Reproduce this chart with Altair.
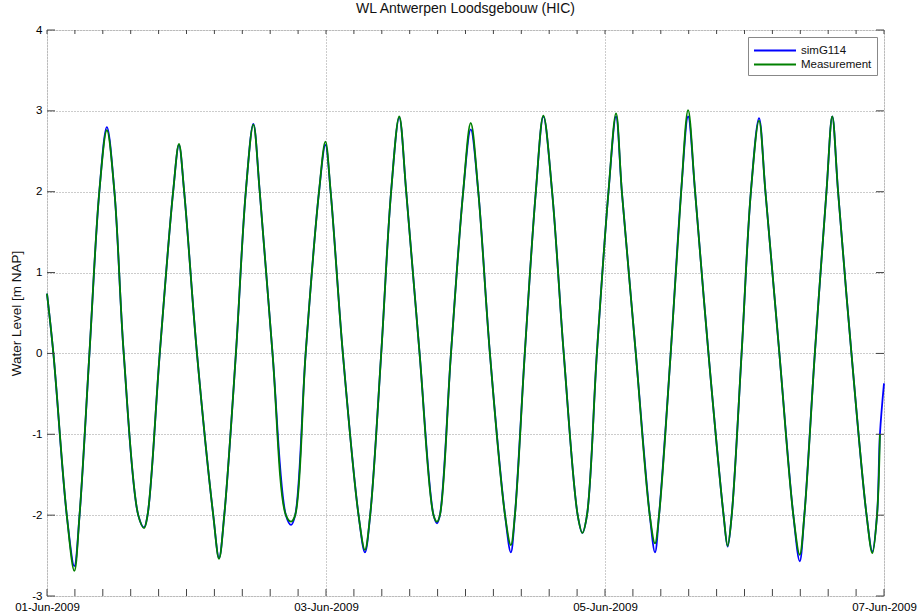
import altair as alt
import pandas as pd

# ---- data (hours after 01-Jun-2009 00:00) ----
hours = [0.0, 1.1, 3.4, 4.7,
         5.6, 7.3, 9.0, 10.3, 11.6, 13.2, 15.7, 16.7,
         17.3, 19.4, 21.7, 22.7, 23.6, 25.8, 28.6, 29.6,
         30.5, 32.5, 34.2, 35.5, 36.6, 38.8, 41.1, 42.0,
         42.7, 44.5, 46.8, 47.9, 48.8, 50.9, 53.6, 54.7,
         55.6, 57.5, 59.2, 60.6, 61.8, 64.1, 66.5, 67.1,
         67.6, 69.5, 71.6, 72.9, 74.2, 76.2, 78.8, 79.8,
         80.5, 82.2, 84.1, 85.4, 86.9, 88.9, 91.3, 92.1,
         92.9, 94.6, 96.6, 97.9, 98.9, 101.3, 103.7, 104.6,
         105.3, 107.3, 109.1, 110.3, 111.5, 113.8, 116.4, 117.1,
         117.8, 119.5, 121.1, 122.5, 123.6, 126.0, 128.4, 129.5,
         130.3, 132.1, 134.1, 135.1, 136.1, 138.4, 141.0, 142.0,
         142.8, 143.3, 144.0]

sim_values = [0.74, 0.0, -2.0, -2.63,
              -2.0, 0.0, 2.0, 2.80, 2.0, 0.0, -2.0, -2.15,
              -2.0, 0.0, 2.0, 2.58, 2.0, 0.0, -2.0, -2.53,
              -2.0, 0.0, 2.0, 2.84, 2.0, 0.0, -2.0, -2.12,
              -2.0, 0.0, 2.0, 2.58, 2.0, 0.0, -2.0, -2.46,
              -2.0, 0.0, 2.0, 2.92, 2.0, 0.0, -2.0, -2.10,
              -2.0, 0.0, 2.0, 2.77, 2.0, 0.0, -2.0, -2.46,
              -2.0, 0.0, 2.0, 2.93, 2.0, 0.0, -2.0, -2.22,
              -2.0, 0.0, 2.0, 2.93, 2.0, 0.0, -2.0, -2.46,
              -2.0, 0.0, 2.0, 2.93, 2.0, 0.0, -2.0, -2.39,
              -2.0, 0.0, 2.0, 2.91, 2.0, 0.0, -2.0, -2.57,
              -2.0, 0.0, 2.0, 2.93, 2.0, 0.0, -2.0, -2.45,
              -2.0, -1.0, -0.37]

meas_values = [0.74, 0.0, -2.0, -2.69,
               -2.0, 0.0, 2.0, 2.76, 2.0, 0.0, -2.0, -2.16,
               -2.0, 0.0, 2.0, 2.59, 2.0, 0.0, -2.0, -2.54,
               -2.0, 0.0, 2.0, 2.83, 2.0, 0.0, -2.0, -2.08,
               -2.0, 0.0, 2.0, 2.62, 2.0, 0.0, -2.0, -2.43,
               -2.0, 0.0, 2.0, 2.93, 2.0, 0.0, -2.0, -2.08,
               -2.0, 0.0, 2.0, 2.85, 2.0, 0.0, -2.0, -2.37,
               -2.0, 0.0, 2.0, 2.94, 2.0, 0.0, -2.0, -2.22,
               -2.0, 0.0, 2.0, 2.97, 2.0, 0.0, -2.0, -2.35,
               -2.0, 0.0, 2.0, 3.01, 2.0, 0.0, -2.0, -2.38,
               -2.0, 0.0, 2.0, 2.88, 2.0, 0.0, -2.0, -2.49,
               -2.0, 0.0, 2.0, 2.93, 2.0, 0.0, -2.0, -2.47,
               -2.0, -1.0, None]

series_names = ["simG114", "Measurement"]
series_colors = ["#0000ff", "#008000"]
x_label_dates = [(2009, 6, 1), (2009, 6, 3), (2009, 6, 5), (2009, 6, 7)]
y_ticks = [-3, -2, -1, 0, 1, 2, 3, 4]

# ---- build the table ----
base = pd.Timestamp("2009-06-01 00:00:00")
rows = []
for h, s, m in zip(hours, sim_values, meas_values):
    t = base + pd.Timedelta(hours=h)
    rows.append({"time": t, "series": "simG114", "value": s})
    if m is not None:
        rows.append({"time": t, "series": "Measurement", "value": m})
df = pd.DataFrame(rows)

minor_ticks = pd.DataFrame({"time": pd.date_range("2009-06-01", "2009-06-07", freq="288min")})
ytick_df = pd.DataFrame({"v": y_ticks})

W, H = 837, 566
FONT = "Liberation Sans"

x_dates = [alt.DateTime(year=y, month=m, date=d) for (y, m, d) in x_label_dates]

x_enc = alt.X(
    "time:T",
    scale=alt.Scale(domain=[x_dates[0], x_dates[-1]], nice=False),
    axis=alt.Axis(values=x_dates, format="%d-%b-%Y", title=None, grid=True,
                  gridDash=[1, 2], gridColor="#999999", ticks=False, domain=False,
                  labelFlush=False, labelPadding=5, labelFontSize=11.5,
                  labelColor="#000000", labelFont=FONT),
)
y_enc = alt.Y(
    "value:Q",
    scale=alt.Scale(domain=[-3, 4], nice=False, zero=False),
    axis=alt.Axis(values=y_ticks, labelExpr="'' + datum.value", title="Water Level [m NAP]",
                  titleFontSize=13.5, titleFontWeight="normal", titleFont=FONT,
                  titleColor="#111111", titlePadding=8, grid=True, gridDash=[1, 2],
                  gridColor="#999999", ticks=False, domain=False, labelPadding=5,
                  labelFontSize=11.5, labelColor="#000000", labelFont=FONT),
)
color_enc = alt.Color(
    "series:N",
    scale=alt.Scale(domain=series_names, range=series_colors),
    legend=alt.Legend(orient="none", legendX=701, legendY=7, title=None,
                      symbolType="M-1,0H4.6", symbolSize=225, symbolStrokeWidth=1.8,
                      labelFontSize=11.5, labelFont=FONT, labelColor="#111111",
                      strokeColor="#888888", fillColor="white", padding=5,
                      rowPadding=0, labelOffset=31),
)

sim_line = alt.Chart(df).transform_filter(alt.datum.series == "simG114").mark_line(
    interpolate="catmull-rom", strokeWidth=1.8).encode(x=x_enc, y=y_enc, color=color_enc)
meas_line = alt.Chart(df).transform_filter(alt.datum.series == "Measurement").mark_line(
    interpolate="catmull-rom", strokeWidth=1.8).encode(x=x_enc, y=y_enc, color=color_enc)

tick_color = "#444444"
xt_bottom = alt.Chart(minor_ticks).mark_rule(color=tick_color, strokeWidth=1).encode(
    x=alt.X("time:T"), y=alt.value(H), y2=alt.value(H - 7))
xt_top = alt.Chart(minor_ticks).mark_rule(color=tick_color, strokeWidth=1).encode(
    x=alt.X("time:T"), y=alt.value(0), y2=alt.value(4))
yt_left = alt.Chart(ytick_df).mark_rule(color=tick_color, strokeWidth=1).encode(
    y=alt.Y("v:Q"), x=alt.value(0), x2=alt.value(8))
yt_right = alt.Chart(ytick_df).mark_rule(color=tick_color, strokeWidth=1).encode(
    y=alt.Y("v:Q"), x=alt.value(W - 8), x2=alt.value(W))

chart = alt.layer(sim_line, meas_line, xt_bottom, xt_top, yt_left, yt_right).properties(
    width=W, height=H,
    title=alt.Title("WL Antwerpen Loodsgebouw (HIC)", fontSize=14, fontWeight="normal",
                    font=FONT, color="#111111", offset=8, anchor="middle"),
    autosize=alt.AutoSizeParams(type="none"),
    padding={"left": 47, "top": 30, "right": 35, "bottom": 20},
).configure_view(stroke="#555555", strokeWidth=1).configure(background="white")

chart.save("out.html", embed_options={"renderer": "svg", "actions": False})
